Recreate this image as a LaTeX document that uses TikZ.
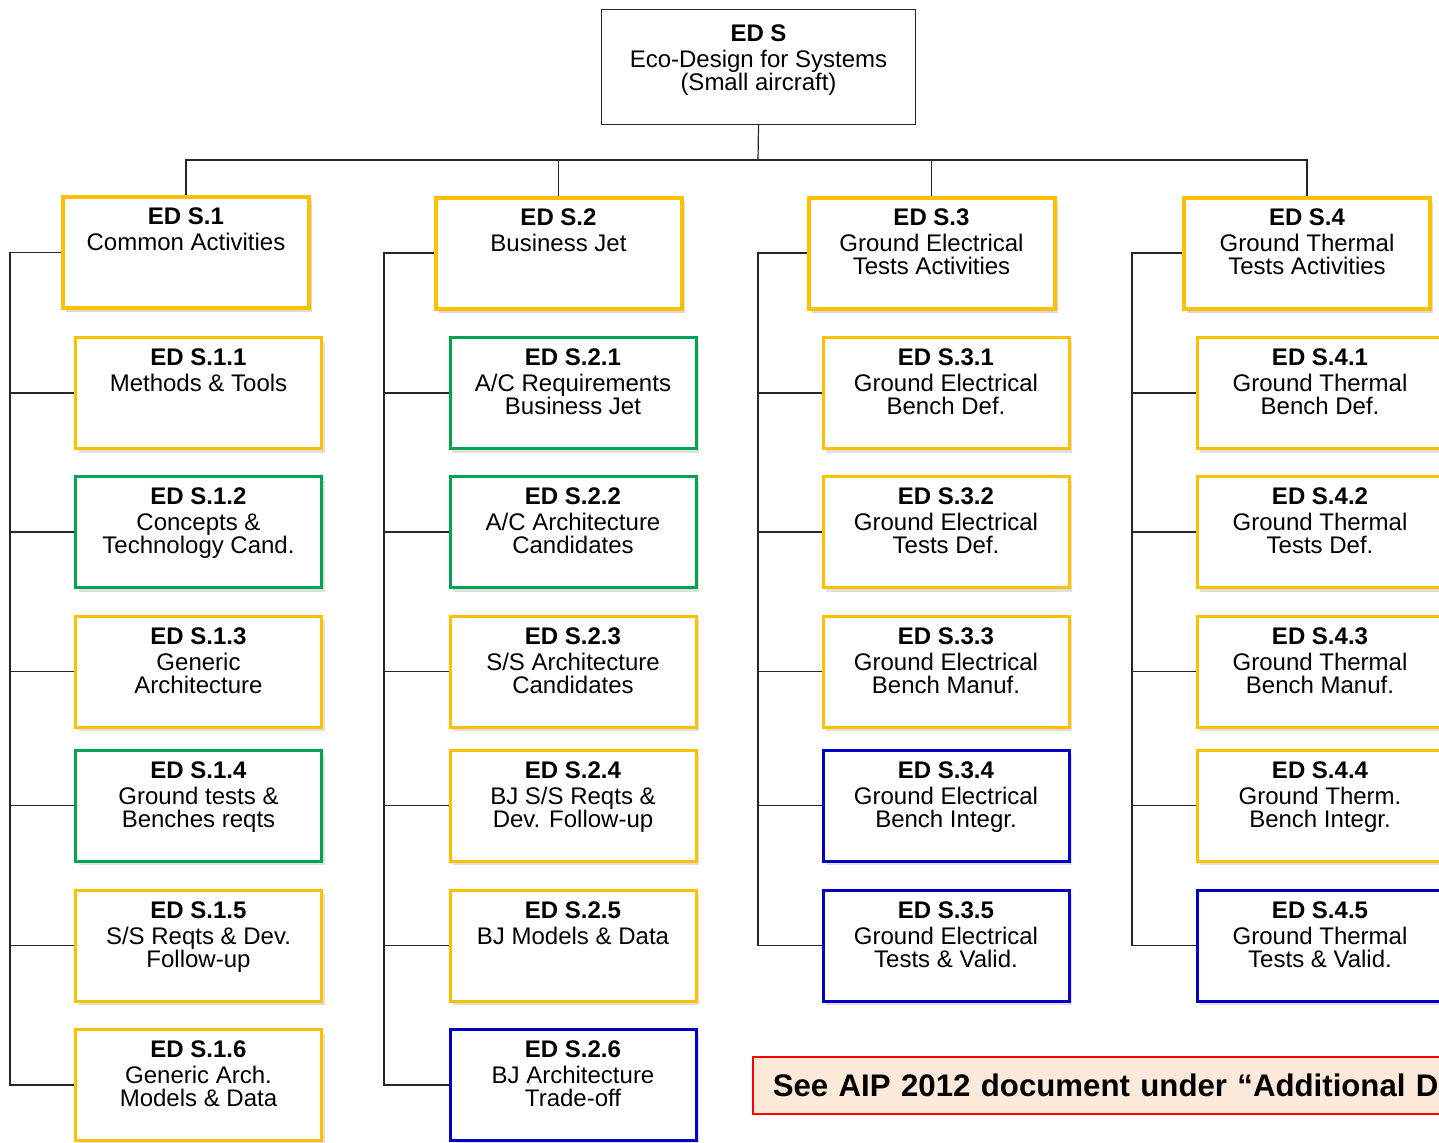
\documentclass[tikz,border=0pt]{standalone}
\usepackage{fontspec}
\setmainfont{Liberation Sans}
\usetikzlibrary{shadows}
\definecolor{wbsyellow}{HTML}{FFC000}
\definecolor{wbsgreen}{HTML}{00A550}
\definecolor{wbsblue}{HTML}{0000C8}
\definecolor{notefill}{HTML}{FDE9D9}
\definecolor{notered}{HTML}{FF0000}
\newcommand{\wbstext}[2]{\textbf{#1}\\[1.5pt]#2}
\begin{document}
\begin{tikzpicture}[x = 0.5pt, y = -0.5pt,
		line/.style = {draw = black!85, line width = 0.6pt},
		tag/.style = {anchor = north, yshift = -3pt, align = center, font = \fontsize{12}{11.5}\selectfont},
		rootbox/.style = {draw = black!85, line width = 0.6pt, minimum width = 157pt, minimum height = 57.5pt},
		groupbox/.style = {draw = wbsyellow, line width = 2pt, fill = white, minimum width = 123pt, minimum height = 55.5pt,
			drop shadow = {shadow xshift = 1.5pt, shadow yshift = -2pt, opacity = 0.3}},
		taskbox/.style = {draw = #1, line width = 1.5pt, fill = white, minimum width = 123pt, minimum height = 55.5pt,
			drop shadow = {shadow xshift = 1.5pt, shadow yshift = -2pt, opacity = 0.25}},
		notebox/.style = {draw = notered, line width = 0.8pt, fill = notefill, anchor = west, minimum height = 28.5pt,
			text width = 400pt, align = left, inner xsep = 10pt, font = \fontsize{15.6}{18}\selectfont\bfseries}]
		\useasboundingbox (0, 0) rectangle (1439, 1142);
		\clip (0, 0) rectangle (1439, 1142);
		%%%%%%%%%%%%%
		\node[rootbox, label = {[tag, yshift = -1.5pt]north:{\wbstext{ED S}{Eco-Design for Systems\\(Small aircraft)}}}] (s) at (758.5, 67) {};
		\coordinate (bus) at (758, 160);
		%%%%%%%%%%%%%
		\node[groupbox, label = {[tag]north:{\wbstext{ED S.1}{Common Activities}}}] (s1) at (186, 252.5) {};
		\node[groupbox, label = {[tag]north:{\wbstext{ED S.2}{Business Jet}}}] (s2) at (558.5, 253) {};
		\node[groupbox, label = {[tag]north:{\wbstext{ED S.3}{Ground Electrical\\Tests Activities}}}] (s3) at (931.5, 253) {};
		\node[groupbox, label = {[tag]north:{\wbstext{ED S.4}{Ground Thermal\\Tests Activities}}}] (s4) at (1307, 253) {};
		%%%%%%%%%%%%%
		\node[taskbox = wbsyellow, label = {[tag]north:{\wbstext{ED S.1.1}{Methods \& Tools}}}] (s11) at (198.5, 393) {};
		\node[taskbox = wbsgreen, label = {[tag]north:{\wbstext{ED S.1.2}{Concepts \&\\Technology Cand.}}}] (s12) at (198.5, 532) {};
		\node[taskbox = wbsyellow, label = {[tag]north:{\wbstext{ED S.1.3}{Generic\\Architecture}}}] (s13) at (198.5, 671.5) {};
		\node[taskbox = wbsgreen, label = {[tag]north:{\wbstext{ED S.1.4}{Ground tests \&\\Benches reqts}}}] (s14) at (198.5, 805.5) {};
		\node[taskbox = wbsyellow, label = {[tag]north:{\wbstext{ED S.1.5}{S/S Reqts \& Dev.\\Follow-up}}}] (s15) at (198.5, 945.5) {};
		\node[taskbox = wbsyellow, label = {[tag]north:{\wbstext{ED S.1.6}{Generic Arch.\\Models \& Data}}}] (s16) at (198.5, 1085) {};
		%%%%%%%%%%%%%
		\node[taskbox = wbsgreen, label = {[tag]north:{\wbstext{ED S.2.1}{A/C Requirements\\Business Jet}}}] (s21) at (573, 393) {};
		\node[taskbox = wbsgreen, label = {[tag]north:{\wbstext{ED S.2.2}{A/C Architecture\\Candidates}}}] (s22) at (573, 532) {};
		\node[taskbox = wbsyellow, label = {[tag]north:{\wbstext{ED S.2.3}{S/S Architecture\\Candidates}}}] (s23) at (573, 671.5) {};
		\node[taskbox = wbsyellow, label = {[tag]north:{\wbstext{ED S.2.4}{BJ S/S Reqts \&\\Dev. Follow-up}}}] (s24) at (573, 805.5) {};
		\node[taskbox = wbsyellow, label = {[tag]north:{\wbstext{ED S.2.5}{BJ Models \& Data}}}] (s25) at (573, 945.5) {};
		\node[taskbox = wbsblue, label = {[tag]north:{\wbstext{ED S.2.6}{BJ Architecture\\Trade-off}}}] (s26) at (573, 1085) {};
		%%%%%%%%%%%%%
		\node[taskbox = wbsyellow, label = {[tag]north:{\wbstext{ED S.3.1}{Ground Electrical\\Bench Def.}}}] (s31) at (946, 393) {};
		\node[taskbox = wbsyellow, label = {[tag]north:{\wbstext{ED S.3.2}{Ground Electrical\\Tests Def.}}}] (s32) at (946, 532) {};
		\node[taskbox = wbsyellow, label = {[tag]north:{\wbstext{ED S.3.3}{Ground Electrical\\Bench Manuf.}}}] (s33) at (946, 671.5) {};
		\node[taskbox = wbsblue, label = {[tag]north:{\wbstext{ED S.3.4}{Ground Electrical\\Bench Integr.}}}] (s34) at (946, 805.5) {};
		\node[taskbox = wbsblue, label = {[tag]north:{\wbstext{ED S.3.5}{Ground Electrical\\Tests \& Valid.}}}] (s35) at (946, 945.5) {};
		%%%%%%%%%%%%%
		\node[taskbox = wbsyellow, label = {[tag]north:{\wbstext{ED S.4.1}{Ground Thermal\\Bench Def.}}}] (s41) at (1320, 393) {};
		\node[taskbox = wbsyellow, label = {[tag]north:{\wbstext{ED S.4.2}{Ground Thermal\\Tests Def.}}}] (s42) at (1320, 532) {};
		\node[taskbox = wbsyellow, label = {[tag]north:{\wbstext{ED S.4.3}{Ground Thermal\\Bench Manuf.}}}] (s43) at (1320, 671.5) {};
		\node[taskbox = wbsyellow, label = {[tag]north:{\wbstext{ED S.4.4}{Ground Therm.\\Bench Integr.}}}] (s44) at (1320, 805.5) {};
		\node[taskbox = wbsblue, label = {[tag]north:{\wbstext{ED S.4.5}{Ground Thermal\\Tests \& Valid.}}}] (s45) at (1320, 945.5) {};
		%%%%%%%%%%%%%
		\node[notebox] (note) at (752, 1085.5) {See AIP 2012 document under “Additional D};
		%%%%%%%%%%%%%
		\draw[line] (s.south) -- (bus);
		\draw[line] (bus) -| (s1.north); \draw[line] (bus) -| (s2.north);
		\draw[line] (bus) -| (s3.north); \draw[line] (bus) -| (s4.north);
		%%%%%%%%%%%%%
		\coordinate (sp1) at (10, 0);
		\coordinate (sp2) at (384, 0);
		\coordinate (sp3) at (758, 0);
		\coordinate (sp4) at (1132, 0);
		\draw[line] (s1.west) -- (s1.west -| sp1) |- (s16.west);
		\draw[line] (s11.west) -- (s11.west -| sp1); \draw[line] (s12.west) -- (s12.west -| sp1);
		\draw[line] (s13.west) -- (s13.west -| sp1); \draw[line] (s14.west) -- (s14.west -| sp1);
		\draw[line] (s15.west) -- (s15.west -| sp1);
		\draw[line] (s2.west) -- (s2.west -| sp2) |- (s26.west);
		\draw[line] (s21.west) -- (s21.west -| sp2); \draw[line] (s22.west) -- (s22.west -| sp2);
		\draw[line] (s23.west) -- (s23.west -| sp2); \draw[line] (s24.west) -- (s24.west -| sp2);
		\draw[line] (s25.west) -- (s25.west -| sp2);
		\draw[line] (s3.west) -- (s3.west -| sp3) |- (s35.west);
		\draw[line] (s31.west) -- (s31.west -| sp3); \draw[line] (s32.west) -- (s32.west -| sp3);
		\draw[line] (s33.west) -- (s33.west -| sp3); \draw[line] (s34.west) -- (s34.west -| sp3);
		\draw[line] (s4.west) -- (s4.west -| sp4) |- (s45.west);
		\draw[line] (s41.west) -- (s41.west -| sp4); \draw[line] (s42.west) -- (s42.west -| sp4);
		\draw[line] (s43.west) -- (s43.west -| sp4); \draw[line] (s44.west) -- (s44.west -| sp4);
		%%%%%%%%%%%%%%
	\end{tikzpicture}
\end{document}
